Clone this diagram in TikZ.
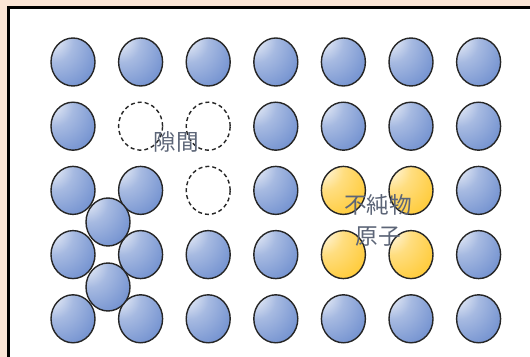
\documentclass[tikz,border=0pt]{standalone}
\usepackage{fontspec}
\newfontfamily\jpfont{Noto Sans CJK JP}
\usetikzlibrary{shapes.geometric}

\definecolor{atomblue}{HTML}{3B66BD}
\definecolor{atomyellow}{HTML}{FFBC00}
\definecolor{paperpink}{HTML}{FBE5D6}
\definecolor{labelgray}{HTML}{5C6577}

% sphere look: light spot up left, full colour down right
\pgfdeclareradialshading{bluesphere}{\pgfpoint{-30bp}{30bp}}{%
  color(0bp)=(white); color(5bp)=(atomblue!8!white);
  color(22bp)=(atomblue!45!white); color(50bp)=(atomblue!78!white); color(80bp)=(atomblue)}
\pgfdeclareradialshading{yellowsphere}{\pgfpoint{-30bp}{30bp}}{%
  color(0bp)=(white); color(5bp)=(atomyellow!8!white);
  color(22bp)=(atomyellow!50!white); color(50bp)=(atomyellow!85!white); color(80bp)=(atomyellow)}

\begin{document}
\begin{tikzpicture}[x=0.5pt, y=-0.5pt,
    atom/.style={ellipse, draw=black!85, line width=0.7pt, shading=bluesphere,
                 minimum width=22pt, minimum height=24pt, inner sep=0pt},
    impurity/.style={atom, shading=yellowsphere},
    vacancy/.style={ellipse, draw=black!85, line width=0.7pt, dash pattern=on 2pt off 1.5pt,
                    minimum width=22pt, minimum height=24pt, inner sep=0pt},
    note/.style={font=\jpfont\fontsize{11.3pt}{13pt}\selectfont, text=labelgray, inner sep=0pt},
  ]
  % Frame
  \useasboundingbox (0,0) rectangle (530,357);
  \fill[paperpink] (0,0) rectangle (530,357);
  \filldraw[fill=white, draw=black, line width=1.5pt] (8,8) rectangle (545,372);

  % Lattice atoms
  \foreach \r/\cols in {1/{1,2,3,4,5,6,7}, 2/{1,4,5,6,7}, 3/{1,2,4,7},
                        4/{1,2,3,4,7}, 5/{1,2,3,4,5,6,7}}
    \foreach \c in \cols
      \node[atom] (a\r\c) at ({73+67.6*(\c-1)}, {62+64.2*(\r-1)}) {};

  % Impurity atoms
  \foreach \r/\c in {3/5, 3/6, 4/5, 4/6}
    \node[impurity] (a\r\c) at ({73+67.6*(\c-1)}, {62+64.2*(\r-1)}) {};

  % Vacancies
  \foreach \r/\c in {2/2, 2/3, 3/3}
    \node[vacancy] (v\r\c) at ({73+67.6*(\c-1)}, {62+64.2*(\r-1)}) {};

  % Interstitial atoms
  \node[atom] (i1) at (108,222) {};
  \node[atom] (i2) at (108,287) {};

  % Labels
  \node[note] (gap)  at (176,142) {隙間};
  \node[note] (imp1) at (378,205) {不純物};
  \node[note] (imp2) at (378,237) {原子};
\end{tikzpicture}
\end{document}
